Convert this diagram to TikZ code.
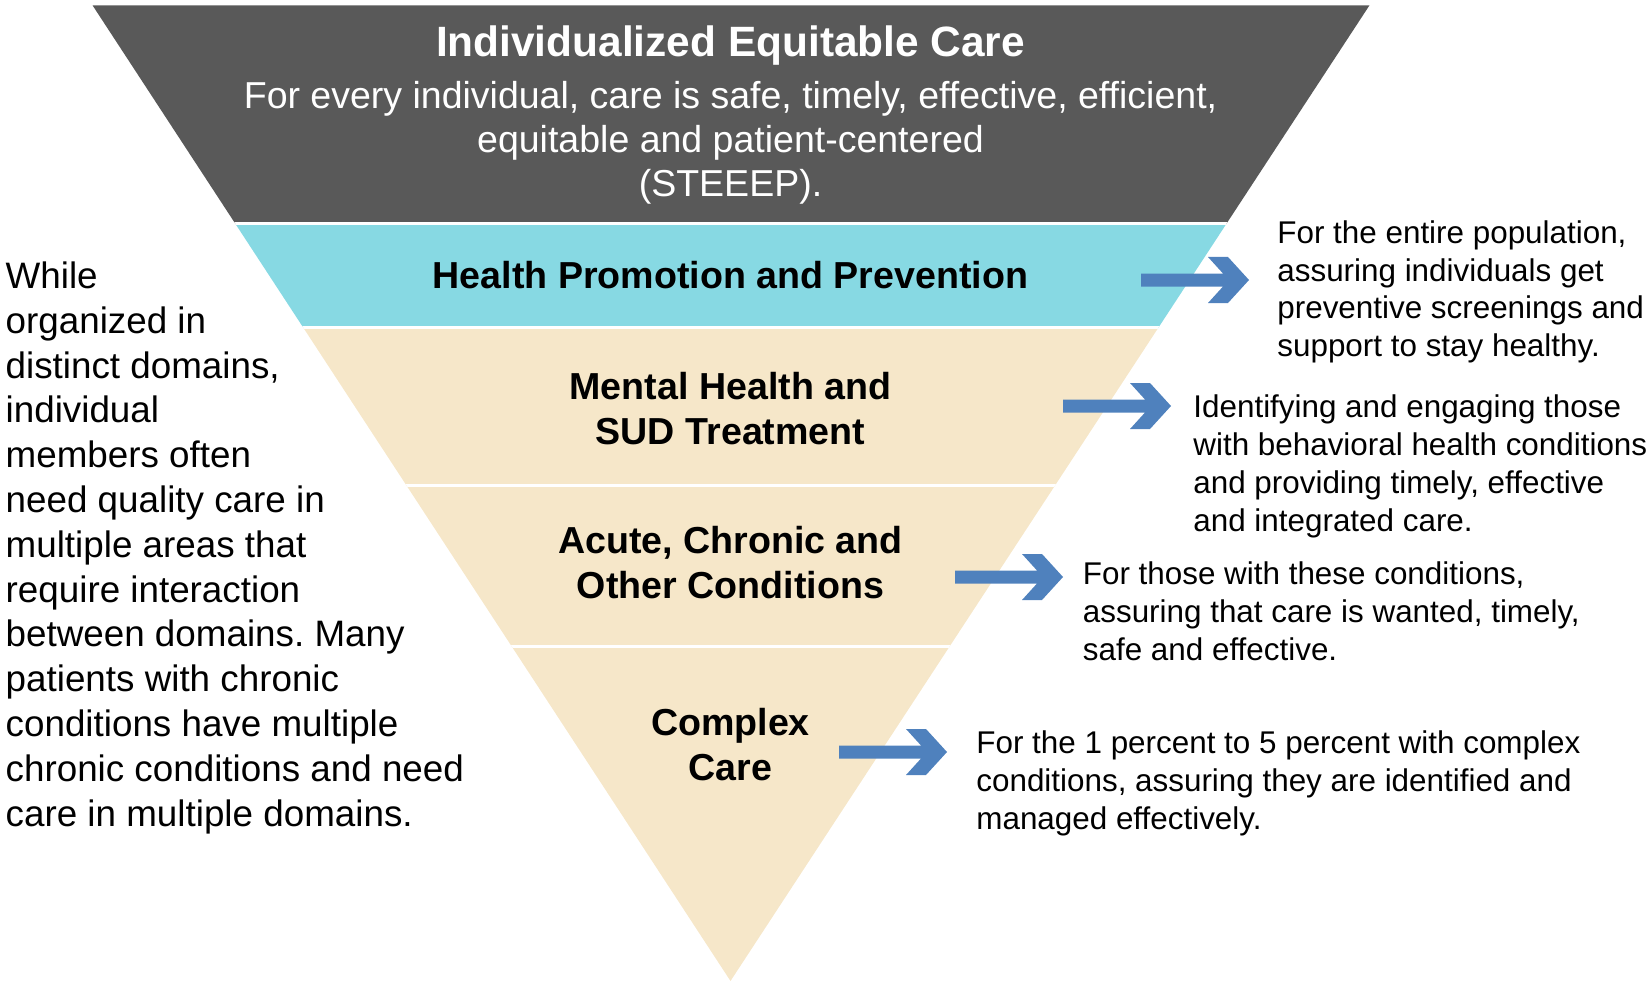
\documentclass[tikz,border=0pt]{standalone}
\usepackage{fontspec}
\setmainfont{Liberation Sans}
\frenchspacing
\usetikzlibrary{positioning}
\definecolor{topgray}{RGB}{89,89,89}
\definecolor{promoteal}{RGB}{135,217,227}
\definecolor{domainbeige}{RGB}{246,231,201}
\definecolor{arrowblue}{RGB}{79,129,189}
\tikzstyle{toptitle} = [text=white, font=\bfseries\fontsize{21.2}{24}\selectfont, inner sep=0pt]
\tikzstyle{topnote} = [text=white, align=center, font=\fontsize{18.75}{22.2}\selectfont, inner sep=0pt]
\tikzstyle{domainlabel} = [align=center, font=\bfseries\fontsize{18.8}{22.5}\selectfont, inner sep=0pt]
\tikzstyle{goal} = [align=left, font=\fontsize{15.7}{18.9}\selectfont, inner sep=0pt]
\tikzstyle{sidenote} = [align=left, font=\fontsize{18.4}{22.4}\selectfont, inner sep=0pt]
\tikzstyle{band} = [white, line width=1.5pt]
\newcommand{\chevarrow}[1]{\fill[arrowblue] (#1) ++(0,-6.5) -- ++(82,0) -- ++(-15,-16.5) -- ++(20,0) -- ++(21,23) -- ++(-21,23) -- ++(-20,0) -- ++(15,-16.5) -- ++(-82,0) -- cycle;}

\begin{document}
\begin{tikzpicture}[x=0.5pt, y=-0.5pt]
\useasboundingbox (0,0) rectangle (1648,984);

\coordinate (tl) at (92.5,5.3);
\coordinate (tr) at (1369.5,5.3);
\coordinate (apex) at (730.5,981);

% inverted triangle with its bands
\begin{scope}
\clip (tl) -- (tr) -- (apex) -- cycle;
\fill[topgray] (0,0) rectangle (1648,224);
\fill[promoteal] (0,224) rectangle (1648,327.5);
\fill[domainbeige] (0,327.5) rectangle (1648,984);
\foreach \y in {224,327.5,485.6,646.4}
  \draw[band] (0,\y) -- (1648,\y);
\end{scope}

% base anchors sit on the last line
\node (title) [toptitle, anchor=base] at (730.5,56.7) {Individualized Equitable Care};
\node (steeep) [topnote, anchor=base] at (730.5,196.9) {For every individual, care is safe, timely, effective, efficient,\\equitable and patient-centered\\(STEEEP).};

\node (promo) [domainlabel, anchor=base] at (730.5,288.3) {Health Promotion and Prevention};
\node (mental) [domainlabel, anchor=base] at (730.5,444) {Mental Health and\\SUD Treatment};
\node (acute) [domainlabel, anchor=base] at (730.5,598.7) {Acute, Chronic and\\Other Conditions};
\node (complex) [domainlabel, anchor=base] at (730.5,780.5) {Complex\\Care};

% goals on the right
\node (promogoal) [goal, anchor=base west] at (1277,356.6) {For the entire population,\\assuring individuals get\\preventive screenings and\\support to stay healthy.};
\node (mentalgoal) [goal, anchor=base west] at (1193,531) {Identifying and engaging those\\with behavioral health conditions\\and providing timely, effective\\and integrated care.};
\node (acutegoal) [goal, anchor=base west] at (1082.5,660.5) {For those with these conditions,\\assuring that care is wanted, timely,\\safe and effective.};
\node (complexgoal) [goal, anchor=base west] at (976,829.5) {For the 1 percent to 5 percent with complex\\conditions, assuring they are identified and\\managed effectively.};

\coordinate (a1) at (1141,280);
\coordinate (a2) at (1063,406);
\coordinate (a3) at (955,577);
\coordinate (a4) at (839,752);
\chevarrow{a1}
\chevarrow{a2}
\chevarrow{a3}
\chevarrow{a4}

% note on the left
\node (crossnote) [sidenote, anchor=base west] at (5.3,826) {While\\organized in\\distinct domains,\\individual\\members often\\need quality care in\\multiple areas that\\require interaction\\between domains. Many\\patients with chronic\\conditions have multiple\\chronic conditions and need\\care in multiple domains.};

\end{tikzpicture}
\end{document}
